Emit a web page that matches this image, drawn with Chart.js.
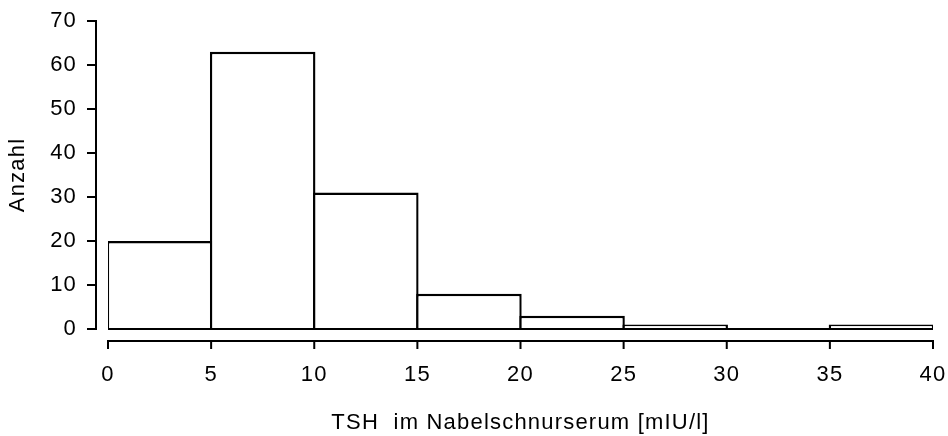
<!DOCTYPE html>
<html>
<head>
<meta charset="utf-8">
<script src="https://cdn.jsdelivr.net/npm/chart.js@4/dist/chart.umd.min.js"></script>
<style>
  html, body { margin: 0; padding: 0; background: #fff; }
  #wrap { width: 948px; height: 436px; }
</style>
</head>
<body>
<div id="wrap"><canvas id="myCanvas"></canvas></div>
<script>
// histogram bins (TSH, 5 mIU/l wide) and counts
let binStarts = [0, 5, 10, 15, 20, 25, 30, 35];
let binWidth = 5;
let counts = [20, 63, 31, 8, 3, 1, 0, 1];
let xTicks = [0, 5, 10, 15, 20, 25, 30, 35, 40];
let yTicks = [0, 10, 20, 30, 40, 50, 60, 70];

let fontFam = "'Liberation Sans', Arial, sans-serif";
let fontSize = 22;

let points = [];
for (let i = 0; i < binStarts.length; i++) {
  points.push({ x: binStarts[i] + binWidth / 2, y: counts[i] });
}

// axes sit a little away from the plot, like the original
let axisGap = 12;
let tickLen = 9;

// the original text is a touch spaced out
let spacing = '1.2px';
const spacedText = {
  id: 'spacedText',
  beforeUpdate(chart) { chart.ctx.letterSpacing = spacing; },
  beforeLayout(chart) { chart.ctx.letterSpacing = spacing; },
  beforeDraw(chart) { chart.ctx.letterSpacing = spacing; }
};

const detachedAxes = {
  id: 'detachedAxes',
  afterDraw(chart) {
    const ctx = chart.ctx;
    const xs = chart.scales.x;
    const ys = chart.scales.y;
    const area = chart.chartArea;
    ctx.save();
    ctx.strokeStyle = '#000';
    ctx.lineWidth = 2;
    ctx.lineCap = 'butt';

    // y axis
    let ax = area.left - axisGap;
    ctx.beginPath();
    ctx.moveTo(ax, ys.getPixelForValue(yTicks[yTicks.length - 1]) - 1);
    ctx.lineTo(ax, ys.getPixelForValue(yTicks[0]) + 1);
    for (let i = 0; i < yTicks.length; i++) {
      let py = ys.getPixelForValue(yTicks[i]);
      ctx.moveTo(ax + 1, py);
      ctx.lineTo(ax - tickLen, py);
    }
    ctx.stroke();

    // x axis
    let ay = area.bottom + axisGap;
    ctx.beginPath();
    ctx.moveTo(xs.getPixelForValue(xTicks[0]) - 1, ay);
    ctx.lineTo(xs.getPixelForValue(xTicks[xTicks.length - 1]) + 1, ay);
    for (let i = 0; i < xTicks.length; i++) {
      let px = xs.getPixelForValue(xTicks[i]);
      ctx.moveTo(px, ay - 1);
      ctx.lineTo(px, ay + tickLen - 1);
    }
    ctx.stroke();
    ctx.restore();
  }
};

const data = {
  datasets: [{
    label: 'Anzahl',
    data: points,
    backgroundColor: '#fff',
    borderColor: '#000',
    borderWidth: 2.4,
    borderSkipped: 'start',
    categoryPercentage: 1,
    barPercentage: 105.5 / 103.1,
    inflateAmount: 0
  }]
};

const config = {
  type: 'bar',
  data: data,
  options: {
    responsive: true,
    maintainAspectRatio: false,
    animation: false,
    layout: { padding: { left: 0, right: 15, top: 21, bottom: 0 } },
    plugins: {
      legend: { display: false },
      tooltip: { enabled: false }
    },
    scales: {
      x: {
        type: 'linear',
        offset: false,
        min: 0,
        max: 40,
        afterFit: (scale) => {
          scale.height = 107;
          scale.paddingLeft = 0;
          scale.paddingRight = 0;
        },
        afterBuildTicks: (scale) => { scale.ticks = xTicks.map(v => ({ value: v })); },
        border: { display: false },
        grid: { display: true, drawOnChartArea: false, drawTicks: false, color: 'transparent' },
        ticks: {
          color: '#000',
          font: { family: fontFam, size: fontSize },
          padding: 33,
          maxRotation: 0,
          autoSkip: false
        },
        title: {
          display: true,
          text: 'TSH  im Nabelschnurserum [mIU/l]',
          color: '#000',
          font: { family: fontFam, size: fontSize },
          padding: { top: 0, bottom: 0 }
        }
      },
      y: {
        min: 0,
        max: 70,
        afterFit: (scale) => {
          scale.width = 108;
          scale.paddingTop = 0;
          scale.paddingBottom = 0;
        },
        afterBuildTicks: (scale) => { scale.ticks = yTicks.map(v => ({ value: v })); },
        border: { display: false },
        grid: {
          drawTicks: false,
          lineWidth: 2,
          color: (c) => (c.tick && c.tick.value === 0 ? '#000' : 'transparent')
        },
        ticks: {
          color: '#000',
          font: { family: fontFam, size: fontSize },
          padding: 31
        },
        title: {
          display: true,
          text: 'Anzahl',
          color: '#000',
          font: { family: fontFam, size: fontSize },
          padding: { top: 5, bottom: 0 }
        }
      }
    }
  },
  plugins: [spacedText, detachedAxes]
};

const canvas = document.getElementById('myCanvas');
new Chart(canvas, config);
</script>
</body>
</html>
